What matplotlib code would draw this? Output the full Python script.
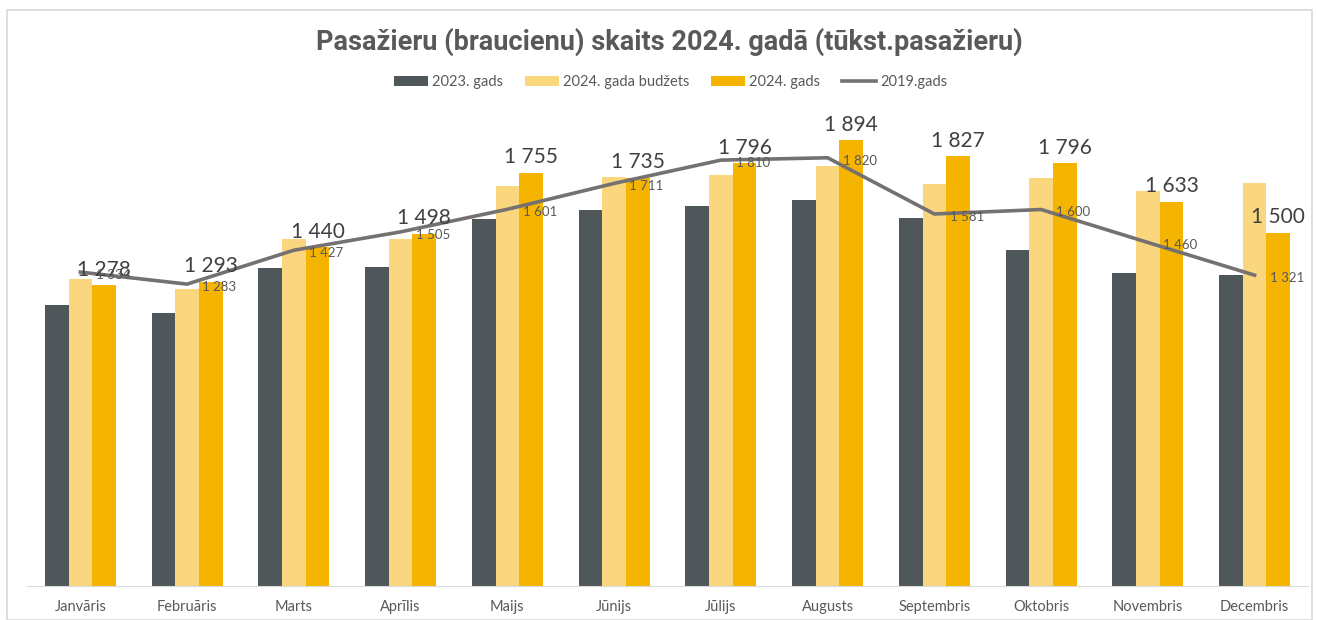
import matplotlib
matplotlib.use('Agg')
import matplotlib.pyplot as plt
import numpy as np
from matplotlib.patches import Rectangle

months = ['Janvāris', 'Februāris', 'Marts', 'Aprīlis', 'Maijs', 'Jūnijs',
          'Jūlijs', 'Augusts', 'Septembris', 'Oktobris', 'Novembris', 'Decembris']
y2023 = [1194, 1159, 1353, 1356, 1558, 1597, 1616, 1639, 1565, 1428, 1330, 1322]
budget2024 = [1303, 1264, 1473, 1476, 1701, 1738, 1747, 1786, 1710, 1735, 1679, 1711]
y2024 = [1278, 1293, 1440, 1498, 1755, 1735, 1796, 1894, 1827, 1796, 1633, 1500]
y2019 = [1334, 1283, 1427, 1505, 1601, 1711, 1810, 1820, 1581, 1600, 1460, 1321]

def fmt(v):
	return f'{v:,}'.replace(',', ' ')

c_dark = '#50575A'
c_light = '#FAD77F'
c_gold = '#F5B400'
c_line = '#767171'

plt.rcParams['font.family'] = ['Lato', 'DejaVu Sans']

fig = plt.figure(figsize=(13.18, 6.2), dpi=100)
fig.patches.append(Rectangle((7/1318, 0), 1305/1318, 610/620, transform=fig.transFigure,
	fill=False, edgecolor='#D9D9D9', linewidth=1.2))
ax = fig.add_axes([27/1318, 34/620, 1281/1318, 470.6/620])

x = np.arange(len(months))
w = 0.222
b1 = ax.bar(x - w, y2023, w, color=c_dark, label='2023. gads')
b2 = ax.bar(x, budget2024, w, color=c_light, label='2024. gada budžets')
b3 = ax.bar(x + w, y2024, w, color=c_gold, label='2024. gads')
ln, = ax.plot(x, y2019, color=c_line, linewidth=2.6, label='2019.gads')

for xi, v in zip(x, y2024):
	ax.annotate(fmt(v), (xi + w, v), xytext=(0, 4), textcoords='offset points',
		ha='center', va='bottom', fontsize=15, color='#404040')
for xi, v in zip(x, y2019):
	ax.annotate(fmt(v), (xi, v), xytext=(11, -2), textcoords='offset points',
		ha='left', va='center', fontsize=9.5, color='#595959')

ax.set_xlim(-0.5, len(months) - 0.5)
ax.set_ylim(0, 2000)
ax.set_yticks([])
ax.set_xticks(x)
ax.set_xticklabels(months, fontsize=10.5, color='#595959')
ax.tick_params(axis='x', length=0, pad=10)
for s in ['top', 'right', 'left']:
	ax.spines[s].set_visible(False)
ax.spines['bottom'].set_color('#D9D9D9')

fig.text(0.508, 0.932, 'Pasažieru (braucienu) skaits 2024. gadā (tūkst.pasažieru)',
	ha='center', va='center', fontsize=19.5, fontweight='bold', color='#595959',
	family=['Roboto', 'DejaVu Sans'])
fig.legend([b1, b2, b3, ln], ['2023. gads', '2024. gada budžets', '2024. gads', '2019.gads'],
	loc='center', bbox_to_anchor=(0.509, 0.868), ncol=4, frameon=False,
	fontsize=10.5, labelcolor='#595959', handlelength=2.3, handleheight=0.7,
	columnspacing=1.5, handletextpad=0.3)

fig.savefig('out.png', dpi=100)
